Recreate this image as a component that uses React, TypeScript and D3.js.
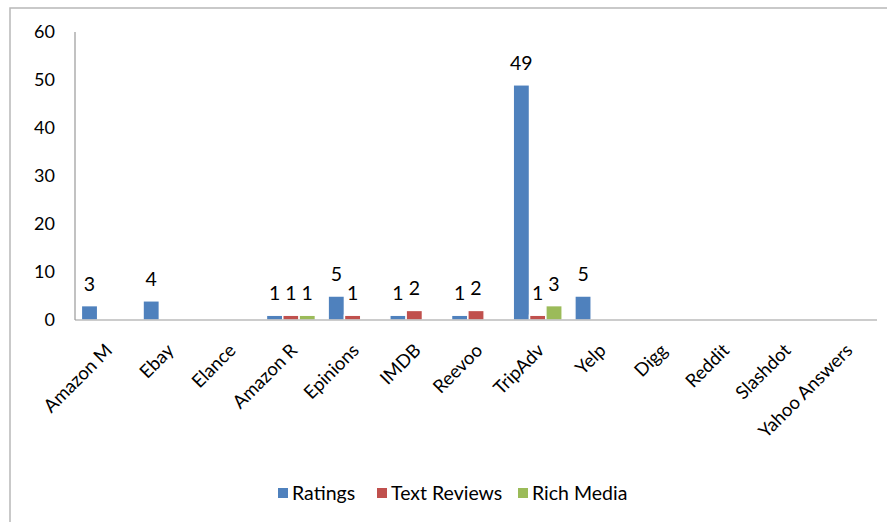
import React, { useEffect, useRef } from 'react';
import * as d3 from 'd3';

const width = 887;
const height = 522;

const categories = ['Amazon M', 'Ebay', 'Elance', 'Amazon R', 'Epinions', 'IMDB', 'Reevoo', 'TripAdv', 'Yelp', 'Digg', 'Reddit', 'Slashdot', 'Yahoo Answers'];
const seriesNames = ['Ratings', 'Text Reviews', 'Rich Media'];
const seriesColors = ['#4F81BD', '#C0504D', '#9BBB59'];
const ratings = [3, 4, null, 1, 5, 1, 1, 49, 5, null, null, null, null];
const textReviews = [null, null, null, 1, 1, 2, 2, 1, null, null, null, null, null];
const richMedia = [null, null, null, 1, null, null, null, 3, null, null, null, null, null];
const yTicks = [0, 10, 20, 30, 40, 50, 60];

const FONT = 'Lato, "Open Sans", sans-serif';

const App = () => {
  const svgRef = useRef<SVGSVGElement>(null);

  useEffect(() => {
    const svg = d3.select(svgRef.current);
    svg.selectAll('*').remove();

    const left = 75, right = 877, top = 32, bottom = 320;
    const values = [ratings, textReviews, richMedia];

    // outer chart frame
    svg.append('rect')
      .attr('x', 10).attr('y', 8)
      .attr('width', 900).attr('height', 530)
      .attr('fill', '#fff')
      .attr('stroke', '#b8b8b8')
      .attr('stroke-width', 1.5);

    const x0 = d3.scaleBand().domain(categories).range([left, right]).padding(0);
    const groupW = 49;
    const x1 = d3.scaleBand().domain(seriesNames).range([0, groupW]).padding(0);
    const y = d3.scaleLinear().domain([0, 60]).range([bottom, top]);

    // y tick labels
    svg.append('g')
      .selectAll('text')
      .data(yTicks)
      .join('text')
      .attr('x', 55)
      .attr('y', d => y(d))
      .attr('dy', '0.35em')
      .attr('text-anchor', 'end')
      .attr('font-family', FONT)
      .attr('font-size', 18)
      .attr('fill', '#000')
      .text(d => d);

    // bars
    values.forEach((vals, si) => {
      const g = svg.append('g');
      const items = categories.map((c, i) => ({ c, v: vals[i] })).filter(d => d.v != null);
      const bx = (d: any) => (x0(d.c) as number) + (x0.bandwidth() - groupW) / 2 + (x1(seriesNames[si]) as number);
      g.selectAll('rect')
        .data(items)
        .join('rect')
        .attr('x', d => bx(d))
        .attr('y', d => y(d.v as number))
        .attr('width', x1.bandwidth())
        .attr('height', d => y(0) - y(d.v as number))
        .attr('fill', seriesColors[si])
        .attr('stroke', '#fff')
        .attr('stroke-width', 1.5);
      g.selectAll('text')
        .data(items)
        .join('text')
        .attr('x', d => bx(d) + x1.bandwidth() / 2)
        .attr('y', d => y(d.v as number) - 15)
        .attr('text-anchor', 'middle')
        .attr('font-family', FONT)
        .attr('font-size', 19.5)
        .attr('fill', '#000')
        .text(d => String(d.v));
    });

    // axes lines
    svg.append('line')
      .attr('x1', left).attr('x2', left)
      .attr('y1', top).attr('y2', bottom)
      .attr('stroke', '#999').attr('stroke-width', 1.2);
    svg.append('line')
      .attr('x1', left).attr('x2', right)
      .attr('y1', bottom).attr('y2', bottom)
      .attr('stroke', '#999').attr('stroke-width', 1.2);

    // category labels
    svg.append('g')
      .selectAll('text')
      .data(categories)
      .join('text')
      .attr('transform', d => `translate(${(x0(d) as number) + x0.bandwidth() / 2 + 3},${347}) rotate(-45)`)
      .attr('dy', '0.35em')
      .attr('text-anchor', 'end')
      .attr('font-family', FONT)
      .attr('font-size', 18.5)
      .attr('fill', '#000')
      .text(d => d);

    // legend
    const legendX = [278, 377, 518];
    const lg = svg.append('g');
    seriesNames.forEach((s, i) => {
      lg.append('rect')
        .attr('x', legendX[i]).attr('y', 488)
        .attr('width', 10).attr('height', 10)
        .attr('fill', seriesColors[i]);
      lg.append('text')
        .attr('x', legendX[i] + 14).attr('y', 493)
        .attr('dy', '0.35em')
        .attr('font-family', FONT)
        .attr('font-size', 19.5)
        .attr('fill', '#000')
        .text(s);
    });
  }, []);

  return (
    <div style={{ position: 'absolute', left: 0, top: 0 }}>
      <svg ref={svgRef} width={width} height={height}></svg>
    </div>
  );
};

export default App;
